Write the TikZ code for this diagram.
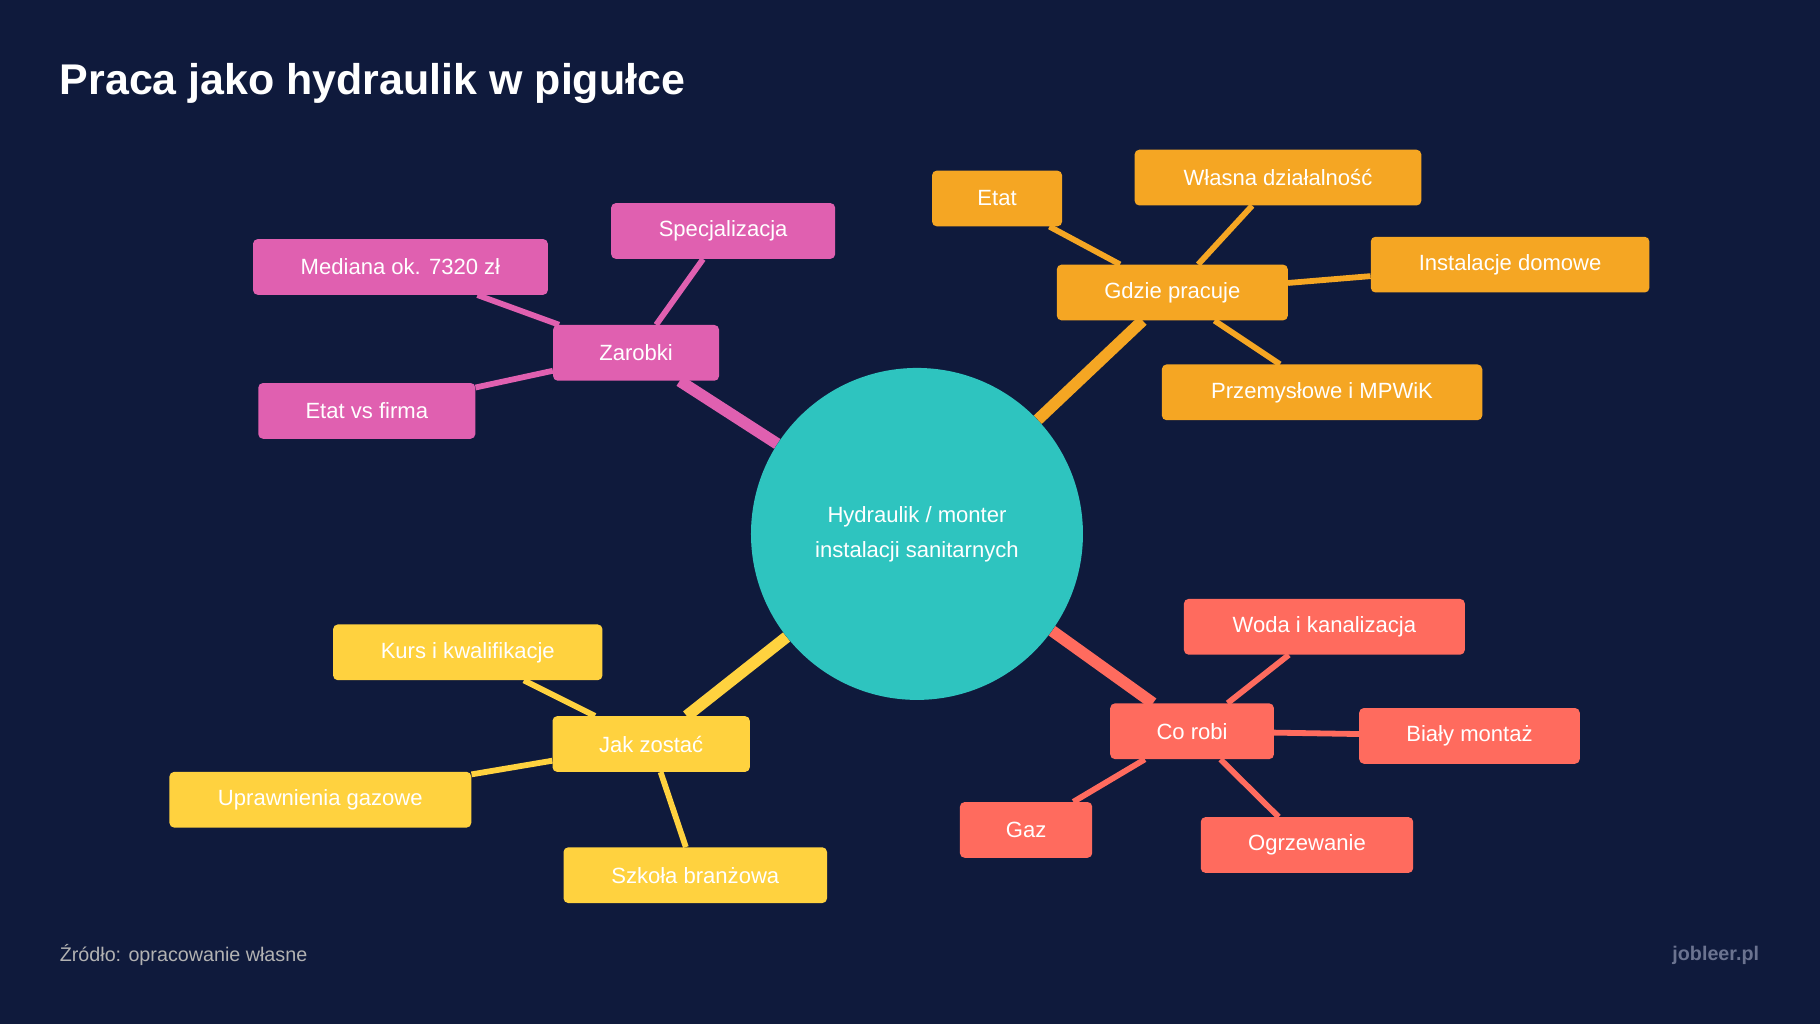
\documentclass[tikz,border=0pt]{standalone}
\usepackage{fontspec}
\setmainfont{Liberation Sans}
\usetikzlibrary{backgrounds}
\definecolor{bg}{HTML}{0F1A3C}
\definecolor{teal}{HTML}{2EC4BF}
\definecolor{pink}{HTML}{E060B0}
\definecolor{orng}{HTML}{F5A623}
\definecolor{yell}{HTML}{FFD23F}
\definecolor{coral}{HTML}{FF6B5E}
\begin{document}
\begin{tikzpicture}[x=1pt,y=-1pt,
 box/.style={rounded corners=4pt,minimum height=48pt,inner sep=0pt,text=white,font=\fontsize{19}{23}\selectfont,anchor=center},
 main/.style={line width=10pt},
 sub/.style={line width=5pt}]
\useasboundingbox (0,0) rectangle (1568,882);
\node[circle,fill=teal,minimum size=286pt,inner sep=0pt,text=white,align=center,font=\fontsize{19}{30}\selectfont] (c) at (790,460) {Hydraulik / monter\\instalacji sanitarnych};
\node[box,fill=pink,minimum width=143pt] (z) at (548,304) {Zarobki};
\node[box,fill=pink,minimum width=193pt] (z1) at (623,199) {Specjalizacja};
\node[box,fill=pink,minimum width=254pt] (z2) at (345,230) {Mediana ok. 7320 zł};
\node[box,fill=pink,minimum width=187pt] (z3) at (316,354) {Etat vs firma};
\node[box,fill=orng,minimum width=199pt] (g) at (1010,252) {Gdzie pracuje};
\node[box,fill=orng,minimum width=112pt] (g1) at (859,171) {Etat};
\node[box,fill=orng,minimum width=247pt] (g2) at (1101,153) {Własna działalność};
\node[box,fill=orng,minimum width=240pt] (g3) at (1301,228) {Instalacje domowe};
\node[box,fill=orng,minimum width=276pt] (g4) at (1139,338) {Przemysłowe i MPWiK};
\node[box,fill=coral,minimum width=141pt] (r) at (1027,630) {Co robi};
\node[box,fill=coral,minimum width=242pt] (r1) at (1141,540) {Woda i kanalizacja};
\node[box,fill=coral,minimum width=190pt] (r2) at (1266,634) {Biały montaż};
\node[box,fill=coral,minimum width=183pt] (r3) at (1126,728) {Ogrzewanie};
\node[box,fill=coral,minimum width=114pt] (r4) at (884,715) {Gaz};
\node[box,fill=yell,minimum width=170pt] (j) at (561,641) {Jak zostać};
\node[box,fill=yell,minimum width=232pt] (j1) at (403,562) {Kurs i kwalifikacje};
\node[box,fill=yell,minimum width=260pt] (j2) at (276,689) {Uprawnienia gazowe};
\node[box,fill=yell,minimum width=227pt] (j3) at (599,754) {Szkoła branżowa};
\node[anchor=west,text=white,font=\fontsize{37}{44}\selectfont\bfseries] (t) at (48,72) {Praca jako hydraulik w pigułce};
\node[anchor=west,text=gray!60!white,font=\fontsize{17}{20}\selectfont] (s) at (48,823) {Źródło: opracowanie własne};
\node[anchor=east,text={rgb,255:red,107;green,115;blue,144},font=\fontsize{17}{20}\selectfont\bfseries] (w) at (1519,823) {jobleer.pl};
\begin{pgfonlayer}{background}
\fill[bg] (0,0) rectangle (1568,882);
\draw[main,pink] (c) -- (z); \draw[sub,pink] (z) -- (z1); \draw[sub,pink] (z) -- (z2); \draw[sub,pink] (z) -- (z3);
\draw[main,orng] (c) -- (g); \draw[sub,orng] (g) -- (g1); \draw[sub,orng] (g) -- (g2); \draw[sub,orng] (g) -- (g3); \draw[sub,orng] (g) -- (g4);
\draw[main,coral] (c) -- (r); \draw[sub,coral] (r) -- (r1); \draw[sub,coral] (r) -- (r2); \draw[sub,coral] (r) -- (r3); \draw[sub,coral] (r) -- (r4);
\draw[main,yell] (c) -- (j); \draw[sub,yell] (j) -- (j1); \draw[sub,yell] (j) -- (j2); \draw[sub,yell] (j) -- (j3);
\end{pgfonlayer}
\end{tikzpicture}
\end{document}
